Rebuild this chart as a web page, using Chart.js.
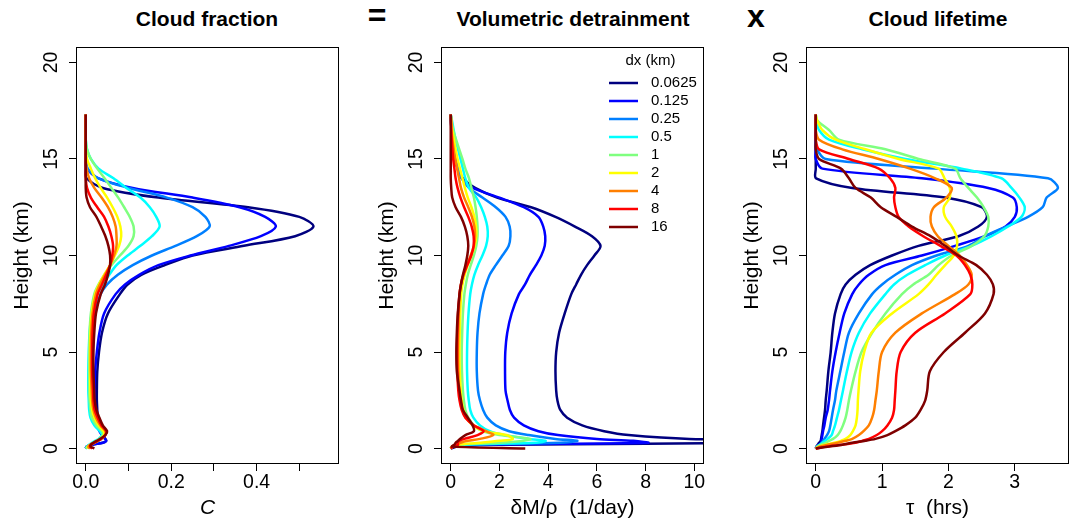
<!DOCTYPE html>
<html>
<head>
<meta charset="utf-8">
<script src="https://cdn.jsdelivr.net/npm/chart.js@4.4.1/dist/chart.umd.min.js"></script>
<style>
  html, body { margin: 0; padding: 0; background: #fff; }
  body { width: 1073px; height: 522px; position: relative; overflow: hidden; font-family: "Liberation Sans", Arial, sans-serif; }
  canvas { position: absolute; top: 0; }
  .ttl { position: absolute; top: 7px; font-weight: bold; font-size: 21px; line-height: 24px; transform: translateX(-50%); white-space: nowrap; }
  .op { position: absolute; font-weight: bold; font-size: 32px; line-height: 32px; transform: translateX(-50%); }
</style>
</head>
<body>
<div class="ttl" style="left:207px">Cloud fraction</div>
<div class="op" style="left:377px; top:-1px">=</div>
<div class="ttl" style="left:573px">Volumetric detrainment</div>
<div class="op" style="left:756px; top:0px">x</div>
<div class="ttl" style="left:938px">Cloud lifetime</div>
<canvas id="c1" width="360" height="522" style="left:0px"></canvas>
<canvas id="c2" width="360" height="522" style="left:365px"></canvas>
<canvas id="c3" width="343" height="522" style="left:730px"></canvas>
<script>
// height levels (km), shared by every profile
const heights = [0, 0.1, 0.2, 0.3, 0.4, 0.5, 0.7, 0.9, 1.2, 1.6, 2, 2.5, 3, 4, 5, 6, 7, 8, 8.5, 9, 9.5, 10,
  10.5, 11, 11.5, 12, 12.5, 13, 13.5, 14, 14.5, 15, 15.5, 16, 16.5, 17, 17.3];

const dxLabels = ['0.0625', '0.125', '0.25', '0.5', '1', '2', '4', '8', '16'];
const jet = ['#00007F', '#0000FF', '#007FFF', '#00FFFF', '#7FFF7F', '#FFFF00', '#FF7F00', '#FF0000', '#7F0000'];

// cloud fraction C, one row per dx
const cloudFraction = [
  [0, 0.002, 0.015, 0.04, 0.048, 0.046, 0.04, 0.035, 0.031, 0.028, 0.027, 0.026, 0.026, 0.027, 0.031, 0.038, 0.052, 0.08, 0.098, 0.13, 0.185, 0.25, 0.37, 0.49, 0.533, 0.5, 0.38, 0.17, 0.04, 0.002, 0, 0, 0, 0, 0, 0, 0],
  [0, 0.002, 0.015, 0.04, 0.048, 0.045, 0.038, 0.032, 0.027, 0.024, 0.022, 0.021, 0.021, 0.022, 0.026, 0.032, 0.043, 0.07, 0.092, 0.125, 0.17, 0.245, 0.335, 0.41, 0.445, 0.42, 0.36, 0.25, 0.11, 0.03, 0.003, 0, 0, 0, 0, 0, 0],
  [0, 0.003, 0.01, 0.02, 0.03, 0.035, 0.04, 0.035, 0.025, 0.016, 0.013, 0.012, 0.011, 0.011, 0.012, 0.014, 0.02, 0.035, 0.05, 0.075, 0.11, 0.155, 0.21, 0.26, 0.29, 0.28, 0.25, 0.19, 0.1, 0.03, 0.005, 0, 0, 0, 0, 0, 0],
  [0, 0.003, 0.008, 0.015, 0.022, 0.03, 0.038, 0.033, 0.02, 0.011, 0.008, 0.007, 0.006, 0.006, 0.007, 0.009, 0.014, 0.027, 0.04, 0.055, 0.072, 0.098, 0.128, 0.155, 0.173, 0.165, 0.15, 0.128, 0.095, 0.065, 0.03, 0.012, 0.003, 0, 0, 0, 0],
  [0, 0.004, 0.01, 0.018, 0.025, 0.032, 0.04, 0.038, 0.025, 0.014, 0.011, 0.009, 0.008, 0.008, 0.008, 0.009, 0.012, 0.02, 0.03, 0.044, 0.06, 0.08, 0.1, 0.112, 0.112, 0.103, 0.09, 0.076, 0.06, 0.044, 0.027, 0.012, 0.003, 0, 0, 0, 0],
  [0.005, 0.005, 0.012, 0.02, 0.028, 0.035, 0.043, 0.042, 0.03, 0.02, 0.015, 0.012, 0.011, 0.01, 0.01, 0.011, 0.014, 0.022, 0.031, 0.043, 0.057, 0.068, 0.078, 0.083, 0.081, 0.074, 0.063, 0.05, 0.035, 0.022, 0.012, 0.003, 0, 0, 0, 0, 0],
  [0.01, 0.006, 0.01, 0.02, 0.028, 0.036, 0.045, 0.046, 0.034, 0.024, 0.018, 0.015, 0.014, 0.012, 0.012, 0.013, 0.016, 0.024, 0.033, 0.045, 0.057, 0.066, 0.072, 0.072, 0.07, 0.063, 0.052, 0.037, 0.02, 0.008, 0.002, 0, 0, 0, 0, 0, 0],
  [0.015, 0.01, 0.012, 0.02, 0.028, 0.036, 0.046, 0.048, 0.037, 0.028, 0.021, 0.018, 0.017, 0.015, 0.015, 0.016, 0.019, 0.028, 0.038, 0.048, 0.057, 0.062, 0.064, 0.06, 0.053, 0.043, 0.027, 0.012, 0.003, 0, 0, 0, 0, 0, 0, 0, 0],
  [0.02, 0.012, 0.012, 0.018, 0.026, 0.034, 0.046, 0.05, 0.04, 0.032, 0.025, 0.021, 0.02, 0.018, 0.018, 0.02, 0.024, 0.035, 0.045, 0.052, 0.057, 0.057, 0.053, 0.046, 0.036, 0.025, 0.01, 0.002, 0, 0, 0, 0, 0, 0, 0, 0, 0]
];

// volumetric detrainment (1/day)
const detrainment = [
  [0, 0.3, 2, 14, 16, 9.8, 7.3, 6.3, 5.4, 4.78, 4.5, 4.38, 4.33, 4.3, 4.33, 4.45, 4.68, 4.95, 5.15, 5.35, 5.6, 5.9, 6.15, 5.8, 5.1, 4.3, 3.3, 1.9, 1.0, 0.5, 0.3, 0.18, 0.1, 0.06, 0.03, 0.01, 0],
  [0, 0.1, 1.0, 8.1, 7.5, 6.0, 4.4, 3.6, 3.0, 2.6, 2.43, 2.33, 2.25, 2.23, 2.24, 2.32, 2.5, 2.8, 3.05, 3.25, 3.5, 3.72, 3.86, 3.88, 3.8, 3.6, 3.0, 2.0, 0.9, 0.45, 0.28, 0.18, 0.1, 0.06, 0.03, 0.01, 0],
  [0, 0.05, 0.5, 4.5, 5.2, 4.3, 3.2, 2.4, 1.85, 1.5, 1.33, 1.2, 1.12, 1.07, 1.07, 1.1, 1.18, 1.33, 1.45, 1.6, 1.85, 2.12, 2.38, 2.45, 2.42, 2.25, 1.85, 1.3, 0.75, 0.45, 0.3, 0.2, 0.12, 0.07, 0.03, 0.01, 0],
  [0, 0.05, 0.4, 3.5, 3.9, 3.2, 2.2, 1.6, 1.2, 0.93, 0.8, 0.74, 0.7, 0.67, 0.67, 0.69, 0.73, 0.8, 0.87, 0.97, 1.12, 1.3, 1.45, 1.52, 1.5, 1.4, 1.25, 1.05, 0.75, 0.6, 0.5, 0.4, 0.3, 0.2, 0.12, 0.05, 0],
  [0, 0.05, 0.3, 2.0, 3.0, 3.27, 2.0, 1.3, 0.95, 0.72, 0.6, 0.54, 0.5, 0.46, 0.45, 0.47, 0.5, 0.56, 0.62, 0.7, 0.82, 0.95, 1.05, 1.1, 1.1, 1.07, 1.02, 0.95, 0.85, 0.75, 0.6, 0.48, 0.35, 0.22, 0.1, 0.03, 0],
  [0, 0.05, 0.3, 1.2, 2.0, 2.55, 2.3, 1.4, 0.9, 0.65, 0.52, 0.45, 0.41, 0.37, 0.36, 0.37, 0.39, 0.43, 0.48, 0.57, 0.7, 0.85, 0.98, 1.05, 1.04, 0.97, 0.85, 0.7, 0.58, 0.48, 0.38, 0.28, 0.2, 0.13, 0.06, 0.02, 0],
  [0, 0.05, 0.2, 0.4, 0.7, 1.2, 1.75, 1.45, 0.95, 0.62, 0.48, 0.4, 0.35, 0.31, 0.3, 0.31, 0.33, 0.37, 0.42, 0.52, 0.66, 0.82, 0.95, 1.0, 0.97, 0.87, 0.72, 0.55, 0.42, 0.34, 0.26, 0.18, 0.12, 0.07, 0.03, 0.01, 0],
  [0, 0.1, 0.3, 0.28, 0.35, 0.55, 1.1, 1.35, 0.95, 0.6, 0.45, 0.36, 0.31, 0.27, 0.26, 0.27, 0.3, 0.36, 0.42, 0.52, 0.68, 0.84, 0.94, 0.94, 0.86, 0.72, 0.55, 0.4, 0.28, 0.2, 0.15, 0.1, 0.07, 0.04, 0.02, 0.01, 0],
  [3.06, 0.05, 0.15, 0.2, 0.3, 0.38, 0.6, 0.95, 0.9, 0.7, 0.5, 0.42, 0.36, 0.25, 0.23, 0.25, 0.29, 0.36, 0.42, 0.5, 0.6, 0.68, 0.72, 0.68, 0.58, 0.42, 0.2, 0.06, 0.02, 0, 0, 0, 0, 0, 0, 0, 0]
];

// cloud lifetime tau (hrs)
const lifetime = [
  [0, 0.01, 0.03, 0.05, 0.075, 0.08, 0.09, 0.1, 0.11, 0.125, 0.14, 0.15, 0.165, 0.19, 0.225, 0.25, 0.29, 0.375, 0.45, 0.6, 0.82, 1.15, 1.55, 2.15, 2.45, 2.58, 2.5, 1.95, 0.55, 0.005, 0, 0, 0, 0, 0, 0, 0],
  [0, 0.02, 0.05, 0.08, 0.085, 0.09, 0.1, 0.11, 0.13, 0.15, 0.18, 0.2, 0.215, 0.25, 0.3, 0.36, 0.43, 0.55, 0.65, 0.8, 1.05, 1.6, 2.1, 2.55, 2.86, 3.0, 3.03, 2.97, 2.6, 1.6, 0.1, 0, 0, 0, 0, 0, 0],
  [0, 0.02, 0.06, 0.09, 0.11, 0.13, 0.17, 0.2, 0.22, 0.24, 0.26, 0.29, 0.31, 0.37, 0.43, 0.5, 0.65, 0.85, 1.0, 1.2, 1.45, 1.82, 2.3, 2.55, 2.87, 3.2, 3.42, 3.48, 3.65, 3.5, 1.8, 0.15, 0.02, 0, 0, 0, 0],
  [0, 0.02, 0.06, 0.1, 0.14, 0.18, 0.24, 0.26, 0.29, 0.32, 0.35, 0.38, 0.41, 0.47, 0.54, 0.65, 0.82, 1.05, 1.18, 1.38, 1.65, 1.95, 2.35, 2.65, 2.9, 3.1, 3.15, 3.07, 2.95, 2.8, 2.2, 1.35, 0.7, 0.2, 0.05, 0.01, 0],
  [0, 0.03, 0.08, 0.15, 0.2, 0.26, 0.33, 0.37, 0.41, 0.45, 0.475, 0.5, 0.53, 0.6, 0.69, 0.85, 1.05, 1.3, 1.47, 1.7, 1.85, 2.05, 2.35, 2.54, 2.6, 2.6, 2.53, 2.43, 2.3, 2.18, 2.1, 1.55, 1.05, 0.35, 0.2, 0.02, 0],
  [0, 0.05, 0.15, 0.28, 0.38, 0.45, 0.52, 0.56, 0.6, 0.62, 0.63, 0.635, 0.645, 0.67, 0.73, 0.84, 1.15, 1.55, 1.7, 1.82, 1.95, 2.08, 2.13, 2.12, 2.05, 1.95, 1.93, 2.02, 2.02, 1.94, 1.85, 1.25, 0.75, 0.3, 0.1, 0.02, 0],
  [0, 0.06, 0.18, 0.33, 0.45, 0.55, 0.65, 0.72, 0.8, 0.85, 0.88, 0.9, 0.92, 0.95, 1.0, 1.2, 1.6, 2.1, 2.3, 2.35, 2.28, 2.17, 2.0, 1.84, 1.75, 1.73, 1.78, 1.97, 2.05, 1.8, 1.42, 0.95, 0.4, 0.05, 0, 0, 0],
  [0, 0.15, 0.4, 0.6, 0.7, 0.8, 0.92, 1.0, 1.08, 1.15, 1.18, 1.19, 1.2, 1.22, 1.28, 1.5, 1.95, 2.33, 2.36, 2.33, 2.25, 2.12, 1.88, 1.62, 1.4, 1.25, 1.2, 1.18, 1.2, 1.12, 0.95, 0.5, 0.05, 0, 0, 0, 0],
  [0, 0.2, 0.4, 0.55, 0.75, 0.9, 1.08, 1.2, 1.35, 1.5, 1.58, 1.65, 1.68, 1.72, 1.93, 2.25, 2.55, 2.68, 2.67, 2.58, 2.42, 2.15, 1.95, 1.73, 1.45, 1.22, 0.98, 0.83, 0.6, 0.5, 0.38, 0.05, 0, 0, 0, 0, 0]
];

const heightTicks = [0, 5, 10, 15, 20];
const fracTicks = [0, 0.1, 0.2, 0.3, 0.4, 0.5];
const fracTickLabels = ['0.0', '', '0.2', '', '0.4', ''];
const detrTicks = [0, 2, 4, 6, 8, 10];
const lifeTicks = [0, 1, 2, 3];

const FONT = "'Liberation Sans', Arial, sans-serif";

// R style box round the plot region
const boxPlugin = {
  id: 'box',
  afterDatasetsDraw(chart) {
    const {ctx, chartArea: a} = chart;
    ctx.save();
    ctx.strokeStyle = '#000';
    ctx.lineWidth = 1;
    ctx.strokeRect(Math.round(a.left) + 0.5, Math.round(a.top) + 0.5, Math.round(a.width) - 1, Math.round(a.height) - 1);
    ctx.restore();
  }
};

// legend inside the middle panel
const dxLegend = {
  id: 'dxLegend',
  afterDraw(chart) {
    const {ctx, chartArea: a} = chart;
    ctx.save();
    ctx.font = '15px ' + FONT;
    ctx.fillStyle = '#000';
    ctx.textBaseline = 'middle';
    ctx.textAlign = 'center';
    ctx.fillText('dx (km)', a.right - 53.5, a.top + 14);
    ctx.textAlign = 'left';
    chart.data.datasets.forEach((ds, i) => {
      const y = a.top + 36 + 18 * i;
      ctx.strokeStyle = ds.borderColor;
      ctx.lineWidth = 2.5;
      ctx.beginPath();
      ctx.moveTo(a.right - 95, y);
      ctx.lineTo(a.right - 66, y);
      ctx.stroke();
      ctx.fillText(ds.label, a.right - 53, y);
    });
    ctx.restore();
  }
};

function makePanel(id, series, xMin, xMax, xTicks, xLabels, xTitle, italic, padRight, extra) {
  return new Chart(document.getElementById(id), {
    type: 'scatter',
    data: {
      datasets: series.map((vals, i) => ({
        label: dxLabels[i],
        data: vals.map((v, k) => ({x: v, y: heights[k]})),
        showLine: true,
        borderColor: jet[i],
        backgroundColor: jet[i],
        borderWidth: 2.5,
        pointRadius: 0,
        tension: 0.3,
        order: 8 - i
      }))
    },
    options: {
      responsive: false,
      animation: false,
      events: [],
      layout: {padding: {left: 0, right: padRight, top: 47, bottom: 0}},
      plugins: {legend: {display: false}, tooltip: {enabled: false}},
      scales: {
        x: {
          type: 'linear',
          min: xMin,
          max: xMax,
          afterBuildTicks: s => { s.ticks = xTicks.map(v => ({value: v})); },
          afterFit: s => { s.height = 58; },
          grid: {drawOnChartArea: false, drawTicks: true, tickLength: 7, color: '#000', lineWidth: 1},
          border: {display: false},
          ticks: {
            color: '#000', font: {size: 19.5, family: FONT}, padding: 0,
            maxRotation: 0, autoSkip: false,
            callback: (v, i) => xLabels[i]
          },
          title: {
            display: true, text: xTitle, color: '#000',
            font: {size: 21, family: FONT, style: italic ? 'italic' : 'normal'},
            padding: {top: 0, bottom: 1}
          }
        },
        y: {
          type: 'linear',
          min: -0.8,
          max: 20.8,
          afterBuildTicks: s => { s.ticks = heightTicks.map(v => ({value: v})); },
          afterFit: s => { s.width = 76; },
          grid: {drawOnChartArea: false, drawTicks: true, tickLength: 7, color: '#000', lineWidth: 1},
          border: {display: false},
          ticks: {
            color: '#000', font: {size: 19.5, family: FONT}, padding: 7,
            minRotation: 90, maxRotation: 90, crossAlign: 'center', autoSkip: false
          },
          title: {
            display: true, text: 'Height (km)', color: '#000',
            font: {size: 21, family: FONT}, padding: {top: 10, bottom: 0}
          }
        }
      }
    },
    plugins: [boxPlugin].concat(extra || [])
  });
}

makePanel('c1', cloudFraction, -0.0228, 0.5928, fracTicks, fracTickLabels, 'C', true, 21);
makePanel('c2', detrainment, -0.4, 10.4, detrTicks, detrTicks.map(String), 'δM/ρ  (1/day)', false, 21, [dxLegend]);
makePanel('c3', lifetime, -0.147, 3.817, lifeTicks, lifeTicks.map(String), 'τ  (hrs)', false, 4);
</script>
</body>
</html>
